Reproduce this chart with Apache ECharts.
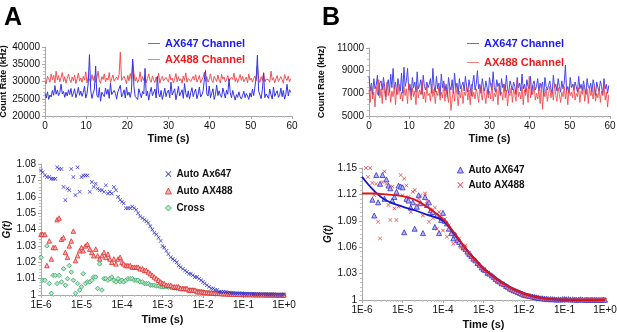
<!DOCTYPE html>
<html>
<head>
<meta charset="utf-8">
<script src="https://cdn.jsdelivr.net/npm/echarts/dist/echarts.min.js"></script>
<style>
  html, body { margin: 0; padding: 0; background: #fff; }
  #chart { width: 617px; height: 332px; }
</style>
</head>
<body>
<div id="chart"></div>
<script>
// count rate traces, one value every 0.3 s (kHz)
var traceStep = 0.3;
var traceA647 = [
  26500,25200,27000,24800,26100,25500,27400,26000,28800,26300,
  27500,25900,26800,29200,26400,27100,25400,26900,25800,27600,
  26200,28000,25600,26700,27900,25300,26500,28300,26000,27200,
  25700,26800,28600,25200,26400,29500,37800,27500,25100,26600,
  27800,34500,26000,25400,28200,24300,26900,27300,25600,28100,
  26300,27700,25100,29500,26200,25800,27400,26600,24900,27000,
  26800,28900,25500,26300,27600,25200,28400,26000,26900,25400,
  27300,36500,28600,25700,26200,24800,27900,26500,25300,27100,
  26400,33800,25800,27200,24600,26700,28300,25900,26100,27800,
  25200,31500,26600,25500,27400,24800,26300,28100,25600,26900,
  27500,25300,29800,26100,25700,27900,24700,26400,28600,25800,
  26200,27600,25100,29400,26500,25400,27300,24900,26800,28200,
  25600,26900,27800,25000,26300,28400,25500,26100,27200,30500,
  33200,26400,25800,28700,25300,26600,27900,24800,26200,29000,
  25900,27300,26000,25400,28100,26700,25200,27500,26300,30800,
  26800,25300,27400,25900,24600,26200,25400,27000,25600,24900,
  26000,27200,25300,26500,25800,24800,26700,25500,27800,25900,
  28500,31000,37600,27200,26100,25000,27600,32400,25300,26400,
  26900,25100,27800,26200,24900,28400,25700,26600,27300,25400,
  26000,28100,25600,27400,24900,26300,29200,25800,27600,26800
];
var traceA488 = [
  30200,29300,31500,30800,29800,32200,30500,31800,29600,33000,
  30400,31700,29900,31200,32600,30000,31400,29500,30900,32100,
  30600,29700,31300,30200,31900,29400,30800,32400,30100,31000,
  29800,31500,30400,32800,29600,31200,30700,29900,32000,30300,
  31600,29800,30900,33000,30200,29500,31400,30600,32200,29900,
  31000,30400,32600,29700,30800,31900,30100,29600,31300,30500,
  32000,38500,30300,29800,31500,30600,29400,31800,30200,32300,
  30700,35800,32500,30100,31200,29700,30600,32800,29900,31400,
  30300,31700,29600,30900,32200,30400,29800,31600,30500,29700,
  31300,30000,32400,29500,30800,31500,30200,29900,31200,30600,
  29800,32100,30400,31000,29600,30700,32300,29900,31400,30200,
  30800,29500,31600,30300,32500,29800,30900,31300,30000,29700,
  31500,30400,32000,29900,30600,31800,29600,30500,31200,32700,
  30100,31400,29800,30700,32200,30300,29700,31500,30800,30000,
  31900,30400,29600,32100,30700,31300,29900,30500,31700,30200,
  29800,31200,30600,32400,30000,31100,29700,30800,32000,30300,
  31500,29900,30700,31300,29600,32200,30400,31000,29800,30900,
  31600,30200,34500,30800,29700,31400,30300,32600,29900,30700,
  31200,30500,29800,33000,30400,31100,29600,30800,31700,30000,
  29800,31400,30600,29500,32000,30900,30300,31600,29900,30800
];
var traceB647 = [
  8500,7200,7900,6900,8300,7400,7700,8600,6800,7900,
  8100,7300,8400,7600,6700,7800,8200,7100,8700,7500,
  9200,7400,8000,6900,8300,7600,7200,8800,7000,9300,
  7600,8100,9200,7300,7800,6800,8400,7500,8000,7100,
  8900,7400,7700,8200,6900,8600,7600,7300,8000,7500,
  7800,8300,7000,9200,7600,7100,8500,7400,7900,6800,
  8700,7500,8100,7200,7800,6700,8400,7600,7300,8200,
  7000,8800,7500,7900,6900,8300,7400,7700,8000,7200,
  8500,7600,7100,8200,7500,6800,7900,8600,7300,7800,
  9000,7400,7800,7000,8300,7600,7200,8100,7500,6900,
  8400,7700,7300,8900,7500,7100,8200,7600,7900,6900,
  8300,7500,7800,7200,8600,7400,7000,8100,7700,7300,
  8000,7600,6900,8400,7500,7900,7200,8700,7400,7800,
  7100,8200,7600,7400,8500,6900,7800,8100,7300,7600,
  8300,7200,7900,7500,8000,6800,8400,7600,7300,7700,
  8100,7400,7000,8600,7500,7800,7200,8300,7600,7100,
  8100,7400,7900,9500,7200,7600,7000,8400,7500,7800,
  7300,8000,7600,7100,8500,7400,7800,7200,8100,7500,
  6900,8300,7600,7400,7900,7100,8200,7700,6800,8000,
  7500,7200,8100,7600,6900,8300,7400,7800,7000,7700
];
var traceB488 = [
  7300,6200,7800,6500,7100,5800,7600,6900,8200,6600,
  7400,6100,7900,7000,6400,8000,6800,7500,6200,7200,
  6700,7700,6000,7300,6900,7800,6500,7100,6300,7600,
  6800,7400,6100,7900,7000,6400,7500,6700,7200,6000,
  7700,6600,7300,6900,8100,6500,7100,6200,7600,6800,
  7000,6300,7800,6700,7400,6100,7200,6800,7500,6400,
  7100,6600,7900,6300,7300,6800,6200,7600,5500,6500,
  7400,6300,7700,6900,5900,7200,6600,7500,6100,7100,
  6800,7600,6400,7300,6000,7800,6700,7100,6500,7400,
  6900,6200,7700,7000,6400,7500,6800,6100,7300,6600,
  7200,6500,7900,6300,7000,6700,7400,6000,7600,6800,
  7100,6400,7800,6600,7300,5900,7000,6800,7500,6200,
  7400,6900,6300,8200,6700,7100,6500,7600,6000,7300,
  6800,7500,6200,8500,6600,7200,6900,7700,6400,7000,
  6500,7300,6100,7800,5600,7100,6700,7400,6300,7000,
  7600,6600,7200,6400,7900,6800,6300,7500,6900,6200,
  7100,6700,7600,6500,7300,6000,7400,6800,7100,6600,
  7800,6400,7000,6700,7500,6200,7200,6900,7700,6300,
  6900,7400,6100,7600,6800,7100,6500,7700,6300,7000,
  6600,7500,6200,7200,6800,7900,6400,7100,5800,6900
];

// correlator lag times: mantissas in each decade, plus 1 s at the end
var lagMantissa = [1.0,1.1,1.25,1.4,1.6,1.8,2.0,2.25,2.5,2.8,3.2,3.6,4.0,4.5,5.0,5.6,6.3,7.1,8.0,9.0];
var lagDecades = [-6,-5,-4,-3,-2,-1];

var gA647 = [
  1.076,1.075,1.073,1.072,1.072,1.071,1.071,1.071,1.078,1.077,1.077,1.066,1.058,1.065,1.064,1.077,1.072,1.061,1.078,1.063,
  1.072,1.073,1.073,1.073,1.063,1.069,1.066,1.068,1.065,1.064,1.064,1.063,1.067,1.062,1.063,1.062,1.066,1.064,1.060,1.058,
  1.057,1.056,1.053,1.053,1.053,1.054,1.053,1.052,1.050,1.048,1.047,1.046,1.045,1.044,1.042,1.040,1.038,1.037,1.035,1.033,
  1.030,1.029,1.027,1.025,1.023,1.022,1.021,1.020,1.018,1.017,1.016,1.015,1.014,1.013,1.013,1.012,1.011,1.011,1.010,1.009,
  1.008,1.007,1.006,1.005,1.004,1.004,1.003,1.003,1.002,1.002,1.002,1.0018,1.0015,1.0015,1.0012,1.0012,1.001,1.001,1.001,1.001,
  1.0008,1.0008,1.0007,1.0007,1.0006,1.0006,1.0005,1.0005,1.0005,1.0004,1.0004,1.0004,1.0003,1.0003,1.0003,1.0003,1.0002,1.0002,1.0002,1.0002,
  1.0003
];
var gA488 = [
  1.037,1.037,1.037,1.018,1.033,1.022,1.029,1.029,1.046,1.047,1.034,1.035,1.026,1.023,1.030,1.033,1.039,1.021,1.024,1.027,
  1.029,1.027,1.030,1.031,1.028,1.026,1.024,1.028,1.024,1.022,1.024,1.026,1.023,1.025,1.022,1.020,1.022,1.019,1.022,1.023,
  1.020,1.019,1.018,1.018,1.018,1.017,1.017,1.017,1.017,1.016,1.016,1.015,1.015,1.014,1.013,1.012,1.011,1.010,1.009,1.008,
  1.007,1.007,1.006,1.006,1.006,1.005,1.005,1.005,1.005,1.004,1.004,1.004,1.004,1.003,1.003,1.003,1.003,1.002,1.002,1.002,
  1.0018,1.0016,1.0015,1.0014,1.0013,1.0012,1.0011,1.001,1.001,1.0009,1.0008,1.0008,1.0007,1.0007,1.0006,1.0006,1.0005,1.0005,1.0004,1.0004,
  1.0004,1.0003,1.0003,1.0003,1.0003,1.0002,1.0002,1.0002,1.0002,1.0002,1.0001,1.0001,1.0001,1.0001,1.0001,1.0001,1.0,1.0,1.0,1.0,
  1.0
];
var gCross = [
  1.023,1.009,1.009,1.030,1.007,1.001,1.012,1.012,1.007,1.012,1.008,1.016,1.006,1.010,1.018,1.014,1.009,1.001,1.007,1.003,
  1.005,1.013,1.007,1.008,1.008,1.009,1.011,1.011,1.004,1.019,1.003,1.010,1.010,1.009,1.010,1.011,1.009,1.008,1.010,1.008,
  1.009,1.008,1.009,1.010,1.010,1.010,1.009,1.009,1.009,1.008,1.008,1.007,1.007,1.007,1.006,1.006,1.006,1.0055,1.0055,1.005,
  1.005,1.005,1.005,1.0048,1.0047,1.0045,1.0043,1.004,1.004,1.004,1.0038,1.0035,1.0035,1.003,1.003,1.003,1.0028,1.0025,1.0022,1.002,
  1.0018,1.0016,1.0015,1.0014,1.0013,1.0012,1.0011,1.001,1.001,1.0009,1.0008,1.0008,1.0007,1.0006,1.0006,1.0005,1.0005,1.0005,1.0004,1.0004,
  1.0004,1.0004,1.0003,1.0003,1.0003,1.0003,1.0002,1.0002,1.0002,1.0002,1.0002,1.0001,1.0001,1.0001,1.0001,1.0001,1.0001,1.0,1.0,1.0,
  1.0
];
var gB647 = [
  null,null,null,null,null,1.114,1.096,1.142,1.111,1.132,1.142,1.115,1.137,1.130,1.127,1.113,1.117,1.123,1.130,1.129,
  1.128,1.077,1.115,1.113,1.105,1.111,1.081,1.106,1.119,1.110,1.076,1.117,1.108,1.111,1.102,1.100,1.083,1.096,1.076,1.091,
  1.099,1.090,1.087,1.081,1.076,1.070,1.074,1.068,1.066,1.063,1.060,1.058,1.055,1.052,1.050,1.047,1.045,1.042,1.040,1.037,
  1.035,1.034,1.031,1.030,1.028,1.026,1.024,1.022,1.021,1.019,1.018,1.016,1.015,1.013,1.012,1.011,1.010,1.009,1.008,1.007,
  1.006,1.0055,1.005,1.0045,1.004,1.0035,1.003,1.0025,1.002,1.002,1.0015,1.0015,1.001,1.001,1.001,1.0008,1.0005,1.0008,1.0005,1.001,
  1.001,1.0008,1.001,1.0005,1.0008,1.0005,1.0003,1.0005,1.0008,1.0005,1.0003,1.0005,1.0002,1.0005,1.0003,1.0005,1.0002,1.0003,1.0002,1.0005,
  1.0003
];
var gB488 = [
  null,null,1.150,1.140,1.150,1.133,1.119,1.132,1.089,1.070,1.134,1.146,1.132,1.108,1.091,1.129,1.104,1.091,1.106,1.142,
  1.119,1.138,1.130,1.117,1.100,1.123,1.125,1.108,1.115,1.119,1.096,1.121,1.112,1.089,1.102,1.093,1.105,1.081,1.100,1.093,
  1.079,1.092,1.072,1.085,1.077,1.064,1.074,1.068,1.070,1.060,1.058,1.062,1.052,1.054,1.049,1.046,1.045,1.041,1.039,1.036,
  1.035,1.033,1.031,1.029,1.027,1.025,1.024,1.022,1.020,1.019,1.017,1.016,1.015,1.013,1.012,1.011,1.010,1.009,1.008,1.007,
  1.006,1.005,1.005,1.004,1.004,1.003,1.003,1.002,1.002,1.002,1.0015,1.001,1.001,1.001,1.0008,1.0008,1.0005,1.0005,1.0005,1.0003,
  1.0003,1.0002,1.0003,1.0002,1.0001,1.0002,1.0001,1.0002,1.0001,1.0,1.0001,1.0,1.0001,1.0,1.0,1.0001,1.0,1.0,1.0,1.0,
  1.0
];

// fitted curves in panel B
var fitLag = [1e-6,2e-6,4e-6,1e-5,2e-5,4e-5,1e-4,2e-4,4e-4,1e-3,2e-3,4e-3,1e-2,2e-2,4e-2,1e-1,1];
var fitB647 = [1.140,1.124,1.113,1.106,1.102,1.097,1.090,1.074,1.056,1.036,1.025,1.016,1.0075,1.0035,1.0012,1.0003,1.0];
var fitB488 = [1.121,1.121,1.120,1.118,1.114,1.106,1.092,1.075,1.056,1.036,1.025,1.016,1.0075,1.0035,1.0012,1.0003,1.0];

var FONT = 'Liberation Sans, Arial, sans-serif';
var axisGray = '#a8a8a8';
var crossPath = 'path://M0,1L1,0L5,4L9,0L10,1L6,5L10,9L9,10L5,6L1,10L0,9L4,5Z';

function buildLags() {
  var lags = [];
  for (var d = 0; d < lagDecades.length; d++) {
    for (var m = 0; m < lagMantissa.length; m++) {
      lags.push(+(lagMantissa[m] * Math.pow(10, lagDecades[d])).toPrecision(3));
    }
  }
  lags.push(1);
  return lags;
}

function pairs(xs, ys) {
  var out = [];
  for (var i = 0; i < ys.length; i++) {
    if (ys[i] !== null) out.push([xs[i], ys[i]]);
  }
  return out;
}

function traceData(vals) {
  return vals.map(function(v, i) { return [+(i * traceStep).toFixed(1), v]; });
}

function baseAxis(gridIndex) {
  return {
    gridIndex: gridIndex,
    axisLine: { show: true, onZero: false, lineStyle: { color: axisGray, width: 1 } },
    axisTick: { show: true, length: 3, lineStyle: { color: axisGray } },
    minorTick: { show: true, length: 2, lineStyle: { color: '#c4c4c4' } },
    splitLine: { show: false },
    minorSplitLine: { show: false },
    axisLabel: { color: '#111', fontSize: 10, fontFamily: FONT, margin: 5 },
    nameTextStyle: { color: '#111', fontSize: 11, fontWeight: 'bold', fontFamily: FONT }
  };
}

function timeAxis(gridIndex) {
  var ax = baseAxis(gridIndex);
  ax.type = 'value';
  ax.min = 0; ax.max = 60; ax.interval = 10;
  ax.minorTick.splitNumber = 5;
  ax.name = 'Time (s)';
  ax.nameLocation = 'middle';
  ax.nameGap = 17;
  return ax;
}

function rateAxis(gridIndex, min, max, interval, minorSplit, gap) {
  var ax = baseAxis(gridIndex);
  ax.type = 'value';
  ax.min = min; ax.max = max; ax.interval = interval;
  ax.minorTick.splitNumber = minorSplit;
  ax.axisLabel.formatter = function(v) { return String(v); };
  ax.name = 'Count Rate (kHz)';
  ax.nameLocation = 'middle';
  ax.nameGap = gap;
  ax.nameTextStyle.fontSize = 9;
  return ax;
}

function lagAxis(gridIndex, gap) {
  var ax = baseAxis(gridIndex);
  ax.type = 'log';
  ax.logBase = 10;
  ax.min = 1e-6; ax.max = 1;
  ax.minorTick.splitNumber = 9;
  ax.axisLabel.formatter = function(v) {
    var e = Math.round(Math.log10(v));
    return '1E' + (e >= 0 ? '+' : '') + e;
  };
  ax.name = 'Time (s)';
  ax.nameLocation = 'middle';
  ax.nameGap = gap;
  return ax;
}

function gAxis(gridIndex, max, interval, minorSplit, gap) {
  var ax = baseAxis(gridIndex);
  ax.type = 'value';
  ax.min = 1; ax.max = max; ax.interval = interval;
  ax.minorTick.splitNumber = minorSplit;
  ax.axisLabel.formatter = function(v) { return String(+v.toFixed(3)); };
  ax.name = 'G(t)';
  ax.nameLocation = 'middle';
  ax.nameGap = gap;
  ax.nameTextStyle.fontStyle = 'italic';
  ax.nameTextStyle.fontSize = 10;
  return ax;
}

function scatter(name, xi, data, symbol, size, fill, stroke) {
  return {
    name: name, type: 'scatter', xAxisIndex: xi, yAxisIndex: xi,
    data: data, symbol: symbol, symbolSize: size,
    itemStyle: { color: fill, borderColor: stroke, borderWidth: stroke ? 0.8 : 0, opacity: 1 },
    emphasis: { disabled: true }
  };
}

var lags = buildLags();
var myChart = echarts.init(document.getElementById('chart'), null, { renderer: 'canvas' });

var option = {
  animation: false,
  backgroundColor: '#fff',
  textStyle: { fontFamily: FONT },
  title: [
    { text: 'A', left: 4, top: 6, padding: 0, textStyle: { fontSize: 25, fontWeight: 'bold', color: '#000', fontFamily: FONT } },
    { text: 'B', left: 322, top: 6, padding: 0, textStyle: { fontSize: 25, fontWeight: 'bold', color: '#000', fontFamily: FONT } }
  ],
  grid: [
    { left: 45, top: 47, width: 247, height: 69, outerBoundsMode: 'none' },
    { left: 369, top: 48, width: 241, height: 68, outerBoundsMode: 'none' },
    { left: 41, top: 164, width: 243, height: 131, outerBoundsMode: 'none' },
    { left: 362, top: 168, width: 243, height: 132, outerBoundsMode: 'none' }
  ],
  xAxis: [timeAxis(0), timeAxis(1), lagAxis(2, 19), lagAxis(3, 19)],
  yAxis: [
    rateAxis(0, 20000, 40000, 5000, 5, 29),
    rateAxis(1, 5000, 11000, 2000, 4, 43),
    gAxis(2, 1.08, 0.01, 5, 16),
    gAxis(3, 1.15, 0.03, 6, 24)
  ],
  legend: [
    {
      left: 148, top: 38, padding: 0, orient: 'vertical', itemGap: 5, itemWidth: 12, itemHeight: 1, icon: 'rect',
      textStyle: { fontSize: 11, fontWeight: 'bold', fontFamily: FONT },
      data: [
        { name: 'AX647 Channel', itemStyle: { color: '#6a6af0' }, textStyle: { color: '#1c1cf0' } },
        { name: 'AX488 Channel', itemStyle: { color: '#f08080' }, textStyle: { color: '#f01c1c' } }
      ]
    },
    {
      left: 467, top: 38, padding: 0, orient: 'vertical', itemGap: 8, itemWidth: 12, itemHeight: 1, icon: 'rect',
      textStyle: { fontSize: 11, fontWeight: 'bold', fontFamily: FONT },
      data: [
        { name: 'AX647 Channel', itemStyle: { color: '#6a6af0' }, textStyle: { color: '#1c1cf0' } },
        { name: 'AX488 Channel', itemStyle: { color: '#f08080' }, textStyle: { color: '#f01c1c' } }
      ]
    },
    {
      left: 165, top: 169, padding: 0, orient: 'vertical', itemGap: 7, itemWidth: 6, itemHeight: 6,
      textStyle: { fontSize: 10, fontWeight: 'bold', color: '#111', fontFamily: FONT },
      data: [
        { name: 'Auto Ax647', icon: crossPath, itemStyle: { color: '#2a2ad6', borderWidth: 0 } },
        { name: 'Auto AX488', icon: 'triangle', itemStyle: { color: '#f6b4b4', borderColor: '#e42a2a', borderWidth: 0.8 } },
        { name: 'Cross', icon: 'diamond', itemStyle: { color: '#b8e6c8', borderColor: '#34a464', borderWidth: 0.8 } }
      ]
    },
    {
      left: 457, top: 165, padding: 0, orient: 'vertical', itemGap: 5, itemWidth: 6, itemHeight: 6,
      textStyle: { fontSize: 10, fontWeight: 'bold', color: '#111', fontFamily: FONT },
      data: [
        { name: 'Auto AX647', icon: 'triangle', itemStyle: { color: '#b4b4f4', borderColor: '#3030d0', borderWidth: 0.8 } },
        { name: 'Auto AX488', icon: crossPath, itemStyle: { color: '#f03a3a', borderWidth: 0 } }
      ]
    }
  ],
  series: [
    { name: 'AX488 Channel', type: 'line', xAxisIndex: 0, yAxisIndex: 0, data: traceData(traceA488),
      symbol: 'none', lineStyle: { color: '#f25252', width: 1 }, itemStyle: { color: '#f25252' } },
    { name: 'AX647 Channel', type: 'line', xAxisIndex: 0, yAxisIndex: 0, data: traceData(traceA647),
      symbol: 'none', lineStyle: { color: '#3434e6', width: 1 }, itemStyle: { color: '#3434e6' } },
    { name: 'AX647 Channel', type: 'line', xAxisIndex: 1, yAxisIndex: 1, data: traceData(traceB647),
      symbol: 'none', lineStyle: { color: '#4646ea', width: 1 }, itemStyle: { color: '#4646ea' } },
    { name: 'AX488 Channel', type: 'line', xAxisIndex: 1, yAxisIndex: 1, data: traceData(traceB488),
      symbol: 'none', lineStyle: { color: '#f03c3c', width: 1, opacity: 0.8 }, itemStyle: { color: '#f04a4a' } },

    scatter('Cross', 2, pairs(lags, gCross), 'diamond', 4.5, '#b8e6c8', '#34a464'),
    scatter('Auto AX488', 2, pairs(lags, gA488), 'triangle', 4.5, '#f6b4b4', '#e42a2a'),
    scatter('Auto Ax647', 2, pairs(lags, gA647), crossPath, 4, '#2a2ad6', null),

    scatter('Auto AX647', 3, pairs(lags, gB647), 'triangle', 5, '#b4b4f4', '#3030d0'),
    scatter('Auto AX488', 3, pairs(lags, gB488), crossPath, 4, '#f03a3a', null),
    { name: 'fit647', type: 'line', xAxisIndex: 3, yAxisIndex: 3, data: pairs(fitLag, fitB647),
      symbol: 'none', smooth: 0.4, lineStyle: { color: '#1414c8', width: 1.8 } },
    { name: 'fit488', type: 'line', xAxisIndex: 3, yAxisIndex: 3, data: pairs(fitLag, fitB488),
      symbol: 'none', smooth: 0.4, lineStyle: { color: '#e01414', width: 1.8 } }
  ]
};
myChart.setOption(option);
</script>
</body>
</html>
